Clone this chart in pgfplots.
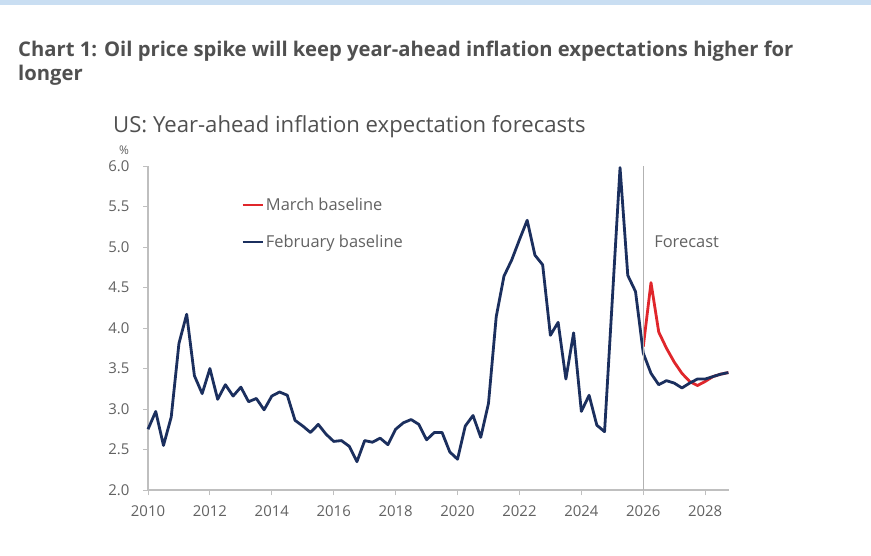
\documentclass[border=0pt]{standalone}
\usepackage{pgfplots}
\pgfplotsset{compat=1.18}
\usepackage{fontspec}
\setmainfont{Open Sans}
\definecolor{navy}{HTML}{1B2F5E}
\definecolor{fred}{HTML}{E0262B}
\definecolor{txt}{HTML}{505050}
\definecolor{tick}{HTML}{626262}
\definecolor{band}{HTML}{C9DEF2}
\definecolor{axl}{HTML}{BFBFBF}
\begin{document}
\begin{tikzpicture}
\fill[white] (0bp,0bp) rectangle (871bp,-556bp);
\fill[band] (0bp,0bp) rectangle (871bp,-5bp);
\node[anchor=base west, inner sep=0pt, text=txt, font=\fontsize{20.3}{24}\selectfont\bfseries] at (18bp,-56bp) {Chart 1: Oil price spike will keep year-ahead inflation expectations higher for};
\node[anchor=base west, inner sep=0pt, text=txt, font=\fontsize{20.3}{24}\selectfont\bfseries] at (18bp,-80bp) {longer};
\node[anchor=base west, inner sep=0pt, text=txt, font=\fontsize{22.2}{26}\selectfont] at (113bp,-132bp) {US: Year-ahead inflation expectation forecasts};
\node[anchor=base, inner sep=0pt, text=tick, font=\fontsize{12}{14}\selectfont] at (124bp,-154bp) {\%};
\begin{axis}[
  at={(148bp,-490bp)}, anchor=south west,
  scale only axis, width=581bp, height=324bp,
  xmin=2010, xmax=2028.77, ymin=2, ymax=6,
  axis lines=left,
  axis line style={-, axl, line width=1.2bp},
  tick style={axl, line width=1bp},
  tick align=outside, major tick length=5bp,
  xtick={2010,2012,...,2028},
  ytick={2,2.5,...,6},
  xticklabel style={yshift=-7bp, /pgf/number format/.cd, 1000 sep={}},
  yticklabel style={xshift=-10bp, /pgf/number format/.cd, fixed, fixed zerofill, precision=1},
  /pgf/number format/assume math mode=true,
  ticklabel style={font=\fontsize{15}{17}\selectfont, text=tick},
  legend style={draw=none, fill=none, inner sep=0pt, at={(0.160,0.908)}, anchor=north west,
    font=\fontsize{16.5}{19}\selectfont, text=tick, row sep=19bp, cells={anchor=west}},
  legend image code/.code={\draw[#1] (0bp,0bp) -- (20bp,0bp);},
  clip=false,
]
\addplot[fred, line width=2.8bp, line join=round] coordinates {
(2026.00,3.77)(2026.25,4.56)(2026.50,3.95)(2026.75,3.75)(2027.00,3.58)(2027.25,3.44)
(2027.50,3.34)(2027.75,3.29)(2028.00,3.34)(2028.25,3.40)(2028.50,3.43)(2028.75,3.45)};
\addlegendentry{March baseline}
\addplot[navy, line width=2.8bp, line join=round] coordinates {
(2010.00,2.75)(2010.25,2.97)(2010.50,2.55)(2010.75,2.90)
(2011.00,3.81)(2011.25,4.17)(2011.50,3.41)(2011.75,3.19)
(2012.00,3.50)(2012.25,3.12)(2012.50,3.30)(2012.75,3.16)
(2013.00,3.27)(2013.25,3.09)(2013.50,3.13)(2013.75,2.99)
(2014.00,3.16)(2014.25,3.21)(2014.50,3.17)(2014.75,2.86)
(2015.00,2.79)(2015.25,2.71)(2015.50,2.81)(2015.75,2.69)
(2016.00,2.60)(2016.25,2.61)(2016.50,2.54)(2016.75,2.35)
(2017.00,2.61)(2017.25,2.59)(2017.50,2.64)(2017.75,2.56)
(2018.00,2.75)(2018.25,2.83)(2018.50,2.87)(2018.75,2.81)
(2019.00,2.62)(2019.25,2.71)(2019.50,2.71)(2019.75,2.47)
(2020.00,2.38)(2020.25,2.79)(2020.50,2.92)(2020.75,2.65)
(2021.00,3.07)(2021.25,4.14)(2021.50,4.64)(2021.75,4.84)
(2022.00,5.09)(2022.25,5.33)(2022.50,4.90)(2022.75,4.78)
(2023.00,3.91)(2023.25,4.07)(2023.50,3.37)(2023.75,3.94)
(2024.00,2.97)(2024.25,3.17)(2024.50,2.80)(2024.75,2.72)
(2025.25,5.98)(2025.50,4.65)(2025.75,4.45)
(2026.00,3.69)(2026.25,3.44)(2026.50,3.30)(2026.75,3.35)
(2027.00,3.32)(2027.25,3.26)(2027.50,3.32)(2027.75,3.37)
(2028.00,3.37)(2028.25,3.40)(2028.50,3.43)(2028.75,3.45)};
\addlegendentry{February baseline}
\addplot[axl!80!gray, line width=1bp, forget plot] coordinates {(2026,2)(2026,6)};
\node[anchor=west, inner sep=0pt, text=tick, font=\fontsize{16.5}{19}\selectfont] at (axis cs:2026.35,5.07) {Forecast};
\end{axis}
\end{tikzpicture}
\end{document}
